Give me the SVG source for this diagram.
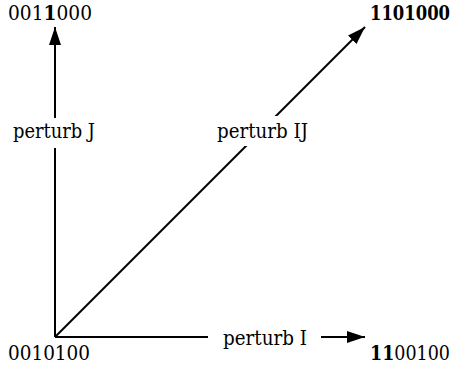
<svg xmlns="http://www.w3.org/2000/svg" width="452" height="370" viewBox="0 0 452 370">
<style>
.t{font-family:"DejaVu Serif","Liberation Serif",serif;font-size:21px;fill:#000}
.b{font-weight:bold}
.ln{stroke:#000;stroke-width:2;fill:none}
.bg{fill:#fff}
</style>
<defs>
<marker id="ah" markerUnits="userSpaceOnUse" markerWidth="18" markerHeight="12" refX="18" refY="6" orient="auto">
<path d="M0,0 L18,6 L0,12 Z" fill="#000"/>
</marker>
</defs>
<g id="connectors">
<line class="ln" x1="55" y1="337" x2="55" y2="27" marker-end="url(#ah)"/>
<line class="ln" x1="55" y1="337" x2="365" y2="337" marker-end="url(#ah)"/>
<line class="ln" x1="55" y1="337" x2="365" y2="27" marker-end="url(#ah)"/>
<rect class="bg" x="10" y="118" width="88" height="30"/>
<rect class="bg" x="208" y="116" width="112" height="30"/>
<rect class="bg" x="208" y="322" width="113" height="30"/>
<text class="t" x="13" y="138" textLength="82" lengthAdjust="spacingAndGlyphs">perturb J</text>
<text class="t" x="217" y="138" textLength="91" lengthAdjust="spacingAndGlyphs">perturb IJ</text>
<text class="t" x="223" y="345" textLength="84" lengthAdjust="spacingAndGlyphs">perturb I</text>
</g>
<g id="n0010100"><text class="t" x="8" y="360" textLength="82" lengthAdjust="spacingAndGlyphs">0010100</text></g>
<g id="n0011000"><text class="t" x="8" y="20" textLength="84" lengthAdjust="spacingAndGlyphs">001<tspan class="b">1</tspan>000</text></g>
<g id="n1100100"><text class="t" x="370" y="360" textLength="80" lengthAdjust="spacingAndGlyphs"><tspan class="b">11</tspan>00100</text></g>
<g id="n1101000"><text class="t b" x="370" y="20" textLength="80" lengthAdjust="spacingAndGlyphs">1101000</text></g>
</svg>
